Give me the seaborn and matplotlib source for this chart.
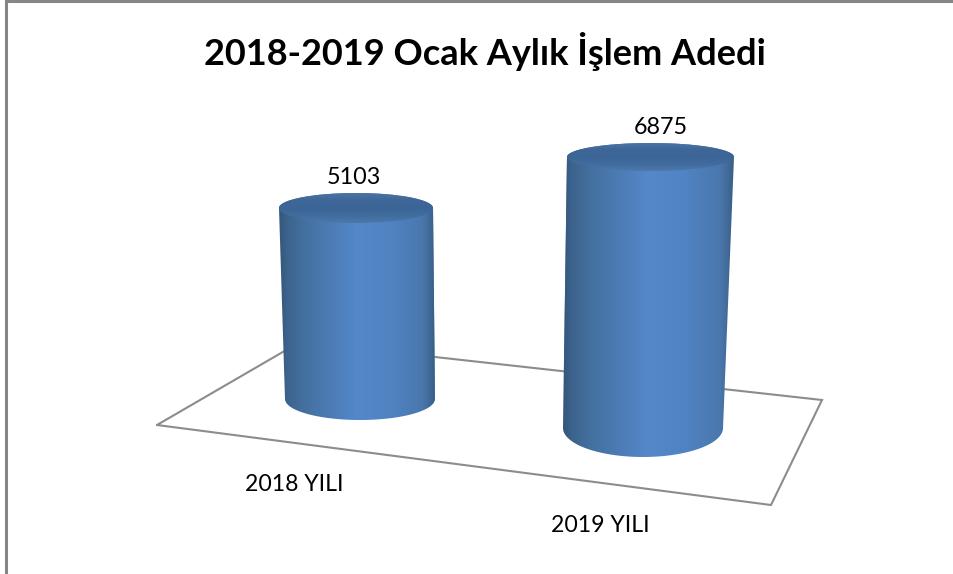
import matplotlib
matplotlib.use("Agg")
import matplotlib.pyplot as plt
import seaborn as sns
import numpy as np
import pandas as pd
from matplotlib.colors import LinearSegmentedColormap
from matplotlib.patches import Ellipse, PathPatch
from matplotlib.path import Path

# chart values
years = ["2018 YILI", "2019 YILI"]
counts = [5103, 6875]
chart_title = "2018-2019 Ocak Aylık İşlem Adedi"

W, H = 954, 574

# perspective layout in pixels, one entry per bar
base_left = [285, 563]
base_right = [435, 723]
base_y = [399, 428]
base_semi = [21, 29]
top_left = [279, 567]
top_right = [433, 734]
top_semi = [15, 14]
px_per_unit = [0.03743, 0.03942]
label_xy = [(354, 184), (661, 134)]
tick_xy = [(294, 491), (600, 532)]

floor_x = [157, 300, 822, 771, 157]
floor_y = [425, 342, 400, 505, 425]

side_cmap = LinearSegmentedColormap.from_list("side", [
    (0.0, "#345679"), (0.05, "#3c638d"), (0.16, "#44709f"), (0.33, "#4c7cb6"),
    (0.5, "#5488c8"), (0.72, "#5083c2"), (0.92, "#4a78ad"), (1.0, "#3a5f88")])
lid_cmap = LinearSegmentedColormap.from_list(
    "lid", ["#4a74a4", "#3e6798", "#3c6597", "#416c9f", "#4c78aa"])


def cylinder_path(i, top_y):
    # outline: over the back of the lid, down the side, round the front of the base
    steps = 60
    t = np.linspace(np.pi, 0, steps)
    cx, rx = (top_left[i] + top_right[i]) / 2, (top_right[i] - top_left[i]) / 2
    upper = np.c_[cx + rx * np.cos(t), top_y - top_semi[i] * np.sin(t)]
    t = np.linspace(0, -np.pi, steps)
    cx, rx = (base_left[i] + base_right[i]) / 2, (base_right[i] - base_left[i]) / 2
    lower = np.c_[cx + rx * np.cos(t), base_y[i] - base_semi[i] * np.sin(t)]
    pts = np.r_[upper, lower, upper[:1]]
    codes = [Path.MOVETO] + [Path.LINETO] * (len(pts) - 2) + [Path.CLOSEPOLY]
    return Path(pts, codes)


def main():
    sns.set_theme(style="white")
    plt.rcParams["font.family"] = ["Lato", "DejaVu Sans"]

    fig = plt.figure(figsize=(W / 100, H / 100), dpi=100, facecolor="white")

    # overlay in pixel coordinates for the perspective drawing
    canvas = fig.add_axes([0, 0, 1, 1], zorder=2)
    canvas.set_xlim(0, W)
    canvas.set_ylim(H, 0)
    canvas.axis("off")
    canvas.patch.set_visible(False)

    # chart frame, the picture is cropped on the right and at the bottom
    canvas.plot([6, 6, W], [H, 1, 1], color="#868686", lw=2.2, solid_joinstyle="miter")
    canvas.plot(floor_x, floor_y, color="#8c8c8c", lw=1.5, solid_joinstyle="miter", zorder=1)

    gradient = np.linspace(0, 1, 256).reshape(1, -1)
    frame = pd.DataFrame({"year": years, "count": counts})

    for i, row in frame.iterrows():
        # each bar has its own axes because its depth gives it its own scale
        bar_ax = fig.add_axes(
            [base_left[i] / W, 1 - base_y[i] / H, (base_right[i] - base_left[i]) / W, base_y[i] / H],
            zorder=1)
        sns.barplot(data=frame[frame["year"] == row["year"]], x="year", y="count",
                    color="#4a7ab5", width=1, saturation=1, ax=bar_ax)
        bar_ax.set_xlim(-0.5, 0.5)
        bar_ax.set_ylim(0, base_y[i] / px_per_unit[i])
        bar_ax.axis("off")

        bar = bar_ax.patches[0]
        tip = bar_ax.transData.transform((0, bar.get_height()))
        top_y = canvas.transData.inverted().transform(tip)[1]

        path = cylinder_path(i, top_y)
        left, right = min(top_left[i], base_left[i]), max(top_right[i], base_right[i])
        side = canvas.imshow(gradient, cmap=side_cmap, aspect="auto", zorder=2,
                             extent=(left, right, base_y[i] + base_semi[i], top_y - top_semi[i]))
        outline = PathPatch(path, transform=canvas.transData, fc="none", ec="none")
        canvas.add_patch(outline)
        side.set_clip_path(outline)
        bar.set_clip_path(path, canvas.transData)

        # lid of the cylinder
        cx, rx = (top_left[i] + top_right[i]) / 2, (top_right[i] - top_left[i]) / 2
        lid = canvas.imshow(gradient.T, cmap=lid_cmap, aspect="auto", zorder=3,
                            extent=(cx - rx, cx + rx, top_y + top_semi[i], top_y - top_semi[i]))
        rim = Ellipse((cx, top_y), 2 * rx, 2 * top_semi[i], fc="none", ec="none",
                      transform=canvas.transData)
        canvas.add_patch(rim)
        lid.set_clip_path(rim)

        canvas.text(label_xy[i][0], label_xy[i][1], str(row["count"]), ha="center", va="baseline",
                    fontsize=16.8, color="black", zorder=5)
        canvas.text(tick_xy[i][0], tick_xy[i][1], row["year"], ha="center", va="baseline",
                    fontsize=16.6, color="black", zorder=5)

    canvas.set_xlim(0, W)
    canvas.set_ylim(H, 0)
    canvas.text(485, 65, chart_title, ha="center", va="baseline", fontsize=26,
                fontweight="bold", color="black", zorder=5)

    fig.savefig("out.png", dpi=100)


if __name__ == "__main__":
    main()
